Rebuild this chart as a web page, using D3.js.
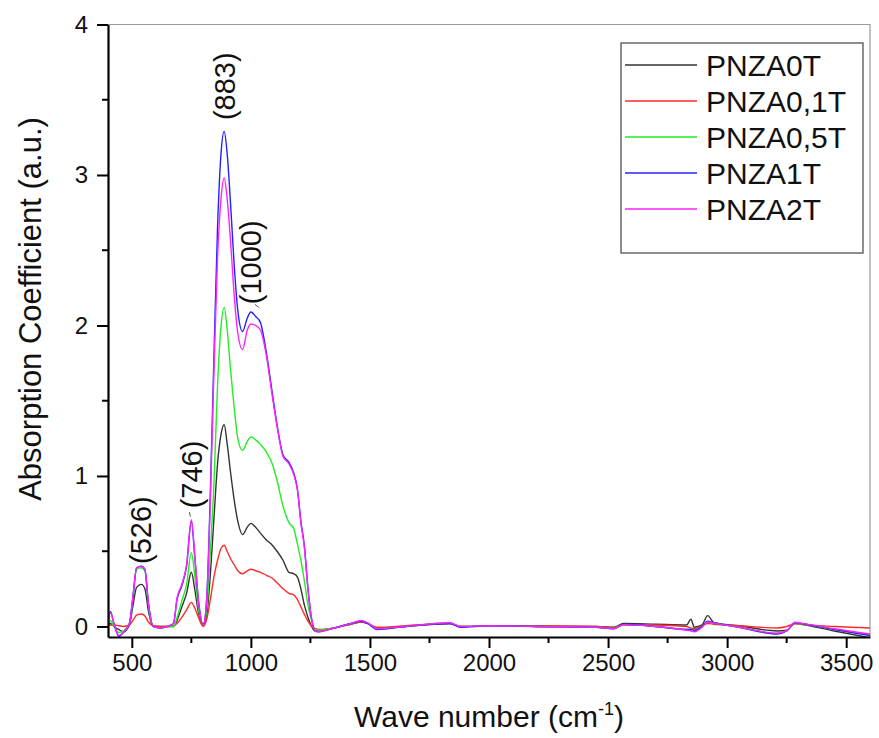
<!DOCTYPE html>
<html>
<head>
<meta charset="utf-8">
<script src="https://cdn.jsdelivr.net/npm/d3@7"></script>
<style>
  body { margin: 0; background: #fff; }
  svg { display: block; font-family: "Liberation Sans", Arial, sans-serif; }
</style>
</head>
<body>
<svg id="chart" width="879" height="738"></svg>
<script>
// wave numbers (cm-1) shared by all spectra
var waveNumbers = [400, 410, 425, 445, 465, 490, 505, 520, 540, 555, 570, 590, 620, 650, 675, 690, 710, 730, 750, 765,
  780, 800, 815, 830, 845, 860, 875, 888, 900, 915, 930, 945, 965, 985, 1000, 1020, 1040, 1065, 1090, 1110,
  1135, 1160, 1180, 1195, 1210, 1225, 1240, 1255, 1270, 1285, 1350, 1420, 1465, 1490, 1530, 1650, 1836, 1880, 2000, 2200,
  2450, 2525, 2565, 2700, 2830, 2848, 2862, 2895, 2918, 2945, 3050, 3210, 3250, 3285, 3310, 3450, 3600];

var pnza0T = [0.0, 0.02, 0.0, -0.02, -0.035, 0.01, 0.14, 0.26, 0.28, 0.25, 0.1, 0.0, 0.0, 0.0, 0.0, 0.04, 0.13, 0.22, 0.36, 0.24,
  0.09, 0.01, 0.08, 0.35, 0.72, 1.08, 1.28, 1.34, 1.22, 1.02, 0.84, 0.7, 0.61, 0.66, 0.685, 0.66, 0.62, 0.575, 0.54, 0.5,
  0.44, 0.36, 0.35, 0.33, 0.25, 0.14, 0.06, 0.0, -0.03, -0.03, -0.01, 0.015, 0.03, 0.02, -0.01, 0.0, 0.02, 0.0, 0.005, 0.0,
  0.0, -0.005, 0.02, 0.015, 0.01, 0.048, -0.005, 0.01, 0.072, 0.025, 0.005, -0.03, -0.025, 0.02, 0.015, -0.03, -0.075];

var pnza01T = [0.01, 0.01, 0.01, 0.005, 0.0, 0.01, 0.04, 0.075, 0.083, 0.07, 0.03, 0.005, 0.0, 0.0, 0.005, 0.02, 0.06, 0.11, 0.16, 0.12,
  0.06, 0.0, 0.05, 0.18, 0.33, 0.44, 0.52, 0.54, 0.5, 0.45, 0.41, 0.37, 0.35, 0.37, 0.38, 0.37, 0.36, 0.34, 0.32, 0.29,
  0.25, 0.22, 0.21, 0.18, 0.13, 0.08, 0.035, 0.0, -0.015, -0.02, -0.01, 0.015, 0.03, 0.02, -0.005, 0.005, 0.02, 0.0, 0.005, 0.005,
  0.0, -0.005, 0.01, 0.01, 0.0, -0.01, -0.015, 0.005, 0.02, 0.015, 0.005, -0.01, 0.0, 0.02, 0.015, 0.0, -0.01];

var pnza05T = [0.01, 0.04, 0.0, -0.04, -0.03, 0.02, 0.19, 0.38, 0.39, 0.37, 0.14, 0.0, -0.01, 0.0, 0.0, 0.06, 0.17, 0.28, 0.49, 0.33,
  0.12, 0.02, 0.12, 0.5, 0.95, 1.6, 2.0, 2.12, 1.98, 1.7, 1.45, 1.25, 1.17, 1.23, 1.26, 1.24, 1.21, 1.16, 1.08, 0.97,
  0.8, 0.69, 0.65, 0.55, 0.44, 0.3, 0.14, 0.04, -0.02, -0.025, -0.01, 0.02, 0.035, 0.02, -0.015, 0.0, 0.025, 0.0, 0.005, 0.0,
  -0.005, -0.012, 0.012, 0.0, -0.02, -0.02, -0.025, 0.0, 0.03, 0.022, -0.005, -0.045, -0.03, 0.022, 0.018, -0.02, -0.055];

var pnza1T = [0.03, 0.1, 0.02, -0.065, -0.04, 0.02, 0.2, 0.39, 0.4, 0.38, 0.15, 0.0, -0.01, 0.0, 0.02, 0.18, 0.27, 0.4, 0.7, 0.45,
  0.17, 0.01, 0.2, 0.9, 1.8, 2.65, 3.15, 3.29, 3.15, 2.8, 2.4, 2.1, 1.96, 2.05, 2.09, 2.06, 2.02, 1.82, 1.55, 1.34,
  1.14, 1.09, 1.02, 0.92, 0.7, 0.53, 0.25, 0.05, -0.03, -0.035, -0.01, 0.02, 0.035, 0.02, -0.02, 0.0, 0.02, -0.005, 0.005, 0.0,
  -0.005, -0.015, 0.015, 0.0, -0.02, -0.02, -0.025, 0.0, 0.035, 0.025, -0.005, -0.05, -0.03, 0.025, 0.02, -0.02, -0.06];

var pnza2T = [0.03, 0.09, 0.02, -0.06, -0.04, 0.02, 0.2, 0.39, 0.4, 0.38, 0.15, 0.0, -0.01, 0.0, 0.02, 0.19, 0.28, 0.41, 0.71, 0.46,
  0.17, 0.01, 0.19, 0.85, 1.7, 2.45, 2.85, 2.98, 2.85, 2.55, 2.2, 1.95, 1.84, 1.97, 2.01, 2.0, 1.97, 1.8, 1.53, 1.33,
  1.13, 1.08, 1.01, 0.91, 0.69, 0.52, 0.24, 0.05, -0.03, -0.035, -0.01, 0.02, 0.04, 0.025, -0.015, 0.0, 0.025, 0.0, 0.005, 0.0,
  -0.005, -0.015, 0.012, 0.0, -0.025, -0.03, -0.035, -0.005, 0.03, 0.022, -0.005, -0.045, -0.028, 0.028, 0.022, -0.015, -0.05];

var seriesNames = ["PNZA0T", "PNZA0,1T", "PNZA0,5T", "PNZA1T", "PNZA2T"];
var seriesValues = [pnza0T, pnza01T, pnza05T, pnza1T, pnza2T];
var seriesColors = ["#333333", "#ff2a2a", "#22ee22", "#2222ff", "#ff22ff"];

var xTicks = [500, 1000, 1500, 2000, 2500, 3000, 3500];
var yTicks = [0, 1, 2, 3, 4];

var peakLabels = ["(526)", "(746)", "(883)", "(1000)"];
var peakPositions = [[538, 0.64], [751, 1.01], [891, 3.59], [1000, 2.42]];

var svg = d3.select("#chart");
var plotLeft = 108, plotRight = 870, plotTop = 24.5, plotBottom = 637;

var x = d3.scaleLinear().domain([400, 3600]).range([plotLeft, plotRight]);
var y = d3.scaleLinear().domain([-0.07, 4]).range([plotBottom, plotTop]);

svg.append("clipPath").attr("id", "plot-clip")
    .append("rect")
    .attr("x", plotLeft).attr("y", plotTop)
    .attr("width", plotRight - plotLeft).attr("height", plotBottom - plotTop);

// top and right frame (thin gray)
svg.append("path")
    .attr("d", "M" + plotLeft + "," + plotTop + "H" + plotRight + "V" + plotBottom)
    .attr("fill", "none")
    .attr("stroke", "#9a9a9a")
    .attr("stroke-width", 1.2);

// spectra
var line = d3.line()
    .x(function (d) { return x(d[0]); })
    .y(function (d) { return y(d[1]); })
    .curve(d3.curveMonotoneX);

var g = svg.append("g").attr("clip-path", "url(#plot-clip)");
seriesValues.forEach(function (vals, i) {
    var pts = waveNumbers.map(function (w, j) { return [w, vals[j]]; });
    g.append("path")
        .attr("d", line(pts))
        .attr("fill", "none")
        .attr("stroke", seriesColors[i])
        .attr("stroke-width", 1.4)
        .attr("stroke-linejoin", "round");
});

// x axis
var xAxis = svg.append("g")
    .attr("transform", "translate(0," + plotBottom + ")")
    .call(d3.axisBottom(x).tickValues(xTicks).tickFormat(d3.format("d"))
        .tickSize(11).tickSizeOuter(0).tickPadding(6));
xAxis.select(".domain").attr("stroke-width", 2.2);
xAxis.selectAll(".tick line").attr("stroke-width", 2);
xAxis.selectAll(".tick text").attr("font-size", 24).attr("fill", "#111")
    .attr("font-family", "Liberation Sans, Arial, sans-serif");

var xMinor = d3.range(750, 3600, 500);
svg.append("g").selectAll("line")
    .data(xMinor).enter().append("line")
    .attr("x1", function (d) { return x(d); })
    .attr("x2", function (d) { return x(d); })
    .attr("y1", plotBottom).attr("y2", plotBottom + 6)
    .attr("stroke", "#000").attr("stroke-width", 2);

// y axis
var yAxis = svg.append("g")
    .attr("transform", "translate(" + plotLeft + ",0)")
    .call(d3.axisLeft(y).tickValues(yTicks).tickFormat(d3.format("d"))
        .tickSize(11).tickSizeOuter(0).tickPadding(9));
yAxis.select(".domain").attr("stroke-width", 2.2);
yAxis.selectAll(".tick line").attr("stroke-width", 2);
yAxis.selectAll(".tick text").attr("font-size", 24).attr("fill", "#111")
    .attr("font-family", "Liberation Sans, Arial, sans-serif");

var yMinor = [0.5, 1.5, 2.5, 3.5];
svg.append("g").selectAll("line")
    .data(yMinor).enter().append("line")
    .attr("x1", plotLeft - 6).attr("x2", plotLeft)
    .attr("y1", function (d) { return y(d); })
    .attr("y2", function (d) { return y(d); })
    .attr("stroke", "#000").attr("stroke-width", 2);

// axis titles
var xTitle = svg.append("text")
    .attr("x", (plotLeft + plotRight) / 2).attr("y", 727)
    .attr("text-anchor", "middle")
    .attr("font-size", 30).attr("fill", "#111");
xTitle.append("tspan").text("Wave number (cm");
xTitle.append("tspan").attr("font-size", 18).attr("dy", -12).text("-1");
xTitle.append("tspan").attr("dy", 12).text(")");

svg.append("text")
    .attr("transform", "translate(41,309) rotate(-90)")
    .attr("text-anchor", "middle")
    .attr("font-size", 31).attr("fill", "#111")
    .text("Absorption Coefficient (a.u.)");

// peak annotations with their small leader marks
peakLabels.forEach(function (t, i) {
    var p = peakPositions[i];
    svg.append("text")
        .attr("transform", "translate(" + (x(p[0]) + 10) + "," + y(p[1]) + ") rotate(-90)")
        .attr("text-anchor", "middle")
        .attr("font-size", 29).attr("fill", "#111")
        .text(t);
});
svg.append("line")
    .attr("x1", x(746) - 1).attr("x2", x(746))
    .attr("y1", y(0.76)).attr("y2", y(0.73))
    .attr("stroke", "#555").attr("stroke-width", 1);
svg.append("line")
    .attr("x1", x(1000) + 4).attr("x2", x(1000) + 8)
    .attr("y1", y(2.14)).attr("y2", y(2.12))
    .attr("stroke", "#555").attr("stroke-width", 1);

// legend
var legend = svg.append("g");
legend.append("rect")
    .attr("x", 621).attr("y", 43)
    .attr("width", 242).attr("height", 210)
    .attr("fill", "#fff")
    .attr("stroke", "#444").attr("stroke-width", 1.2);

seriesNames.forEach(function (name, i) {
    var ly = 65 + i * 36;
    legend.append("line")
        .attr("x1", 625).attr("x2", 697)
        .attr("y1", ly).attr("y2", ly)
        .attr("stroke", seriesColors[i]).attr("stroke-width", 1.4);
    legend.append("text")
        .attr("x", 706).attr("y", ly + 11)
        .attr("font-size", 30).attr("fill", "#111")
        .text(name);
});
</script>
</body>
</html>
